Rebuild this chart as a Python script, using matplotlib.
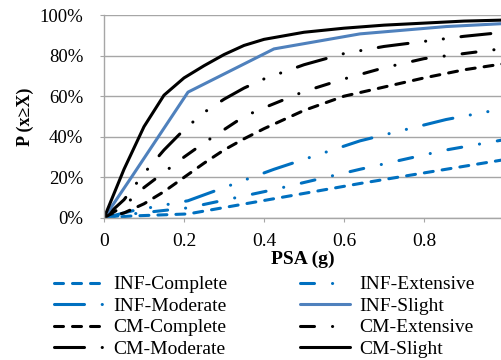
import matplotlib
matplotlib.use("Agg")
import matplotlib.pyplot as plt

plt.rcParams['lines.scale_dashes'] = False
SERIF = ['Liberation Serif', 'DejaVu Serif']
plt.rcParams['font.family'] = SERIF

# ---- data (PSA in g, probability in %) ----
x_cm = [0, 0.05, 0.1, 0.15, 0.2, 0.25, 0.3, 0.35, 0.4, 0.5, 0.6, 0.7, 0.8, 0.9, 1.0]
cm_slight = [0, 24, 45, 60.5, 69, 75, 80.5, 85, 88, 91.5, 93.5, 95, 96, 97, 97.5]
cm_moderate = [0, 9, 22, 33.5, 43.5, 52, 58.5, 64, 68.5, 75.5, 81, 84.5, 87, 89.5, 91.5]
cm_extensive = [0, 6, 15, 22.5, 30, 37, 43.5, 50, 54.3, 62.3, 68.5, 74, 78.5, 81, 83.5]
cm_complete = [0, 2.5, 7, 13, 20, 27, 33.5, 39, 44, 53, 60, 64.5, 69, 73, 76]

x_inf = [0, 0.07, 0.21, 0.425, 0.64, 0.855, 1.07]
inf_slight = [0, 20.5, 62, 83.3, 90.7, 94.3, 96.5]
inf_moderate = [0, 3.5, 8.5, 24, 38, 48.5, 56.5]
inf_extensive = [0, 2, 5, 14, 24, 33.5, 41]
inf_complete = [0, 1, 2, 9.5, 17, 24, 31]

y_ticks = [0, 20, 40, 60, 80, 100]
y_ticklabels = ['0%', '20%', '40%', '60%', '80%', '100%']
x_ticks = [0, 0.2, 0.4, 0.6, 0.8]
x_ticklabels = ['0', '0.2', '0.4', '0.6', '0.8']

# ---- styles ----
px = 72 / 100.0
DASH = (0, (9 * px, 9 * px))
DASHDOT = (0, (14 * px, 18 * px, 0.1, 18 * px))
LDASHDOTDOT = (0, (30 * px, 17.7 * px, 0.1, 17.7 * px, 0.1, 17.7 * px))
BLUE = '#0070C0'
SBLUE = '#4F81BD'
BLACK = '#000000'
LW = 2.2

fig = plt.figure(figsize=(5.01, 3.6), dpi=100)
ax = fig.add_axes([104 / 501, 1 - 218 / 360, 1 - 104 / 501, (218 - 15) / 360])

series = [
    (x_inf, inf_complete, 'INF-Complete', BLUE, DASH),
    (x_inf, inf_moderate, 'INF-Moderate', BLUE, LDASHDOTDOT),
    (x_cm, cm_complete, 'CM-Complete', BLACK, DASH),
    (x_cm, cm_moderate, 'CM-Moderate', BLACK, LDASHDOTDOT),
    (x_inf, inf_extensive, 'INF-Extensive', BLUE, DASHDOT),
    (x_inf, inf_slight, 'INF-Slight', SBLUE, '-'),
    (x_cm, cm_extensive, 'CM-Extensive', BLACK, DASHDOT),
    (x_cm, cm_slight, 'CM-Slight', BLACK, '-'),
]
handles = []
for xs, ys, lab, col, ls in series:
    h, = ax.plot(xs, ys, color=col, linestyle=ls, lw=LW, label=lab,
                 dash_capstyle='round', solid_capstyle='round', clip_on=True)
    handles.append(h)

ax.set_xlim(0, (501 - 104) / 400)
ax.set_ylim(0, 100)
ax.set_yticks(y_ticks)
ax.set_yticklabels(y_ticklabels)
ax.set_xticks(x_ticks)
ax.set_xticklabels(x_ticklabels)
ax.grid(axis='y', color='#a6a6a6', lw=1.0)
ax.set_axisbelow(True)
for s in ['top', 'right']:
    ax.spines[s].set_visible(False)
for s in ['left', 'bottom']:
    ax.spines[s].set_color('#a6a6a6')
    ax.spines[s].set_linewidth(1.0)
ax.tick_params(axis='y', length=3, color='#a6a6a6', pad=12, labelsize=13.5)
ax.tick_params(axis='x', length=3, color='#a6a6a6', pad=8, labelsize=14)

ax.set_xlabel('PSA (g)', fontsize=14, fontweight='bold', labelpad=0)
ax.set_ylabel('P (x≥X)', fontsize=13, fontweight='bold', labelpad=4)

leg = fig.legend(handles=handles, ncol=2, loc='upper left',
                 bbox_to_anchor=(44 / 501, 1 - 266 / 360), frameon=False,
                 fontsize=14, handlelength=2.58, handletextpad=0.5,
                 columnspacing=3.7, labelspacing=0.2, borderpad=0)

fig.savefig('out.png', dpi=100)
